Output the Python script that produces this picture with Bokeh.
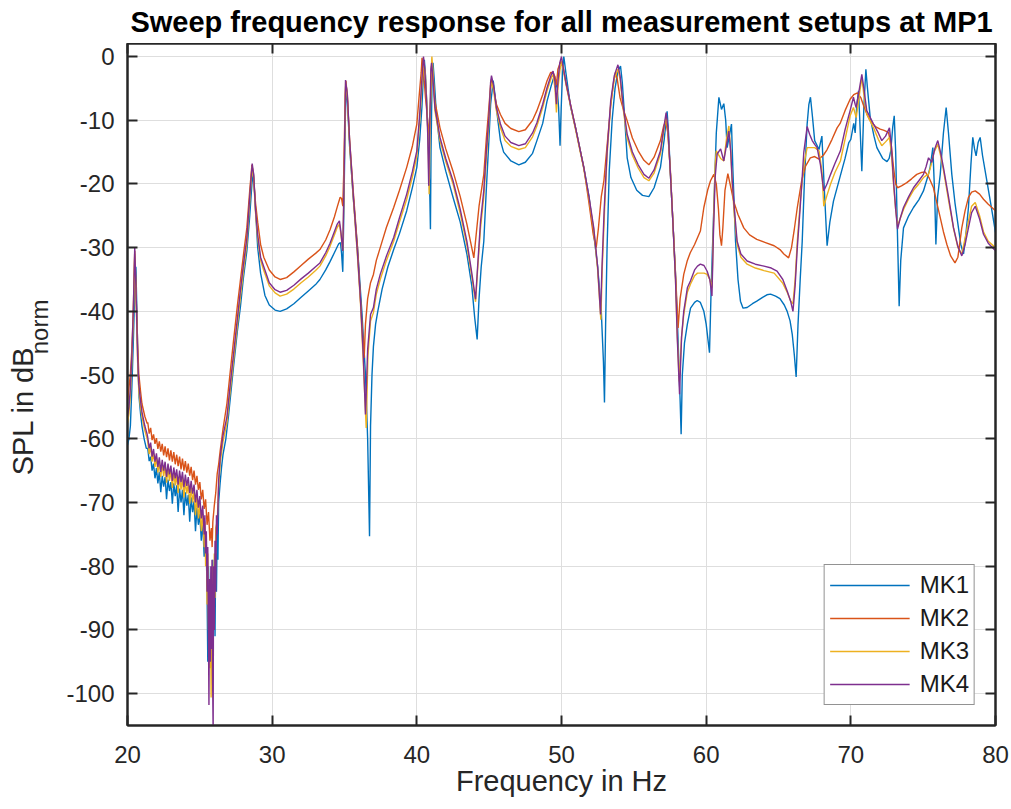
import math
from bokeh.plotting import figure
from bokeh.layouts import column, row
from bokeh.models import Range1d, LinearAxis, FixedTicker
from bokeh.core.properties import value
from bokeh.embed import file_html
from bokeh.resources import INLINE

FONT = "Liberation Sans"

TITLE = "Sweep frequency response for all measurement setups at MP1"
X_LABEL = "Frequency in Hz"
Y_LABEL_MAIN = "SPL in dB"
Y_LABEL_SUB = "norm"
SERIES_NAMES = ["MK1", "MK2", "MK3", "MK4"]
SERIES_COLORS = ["#0072BD", "#D95319", "#EDB120", "#7E2F8E"]
X_TICKS = [20, 30, 40, 50, 60, 70, 80]
Y_TICKS = [-100, -90, -80, -70, -60, -50, -40, -30, -20, -10, 0]

# (frequency in Hz, SPL in dB_norm)
MK1 = [
    (20.00, -61.0), (20.10, -60.0), (20.20, -58.0), (20.30, -52.0), (20.40, -45.0), (20.50, -37.0),
    (20.58, -33.0), (20.65, -40.0), (20.72, -48.0), (20.80, -53.5), (20.90, -56.0), (21.00, -58.0),
    (21.15, -60.0), (21.30, -61.5),
    (21.4, -61.5), (21.5, -63.5), (21.6, -62.8), (21.7, -65.0), (21.8, -63.9), (21.9, -66.2),
    (22.0, -64.6), (22.1, -67.0), (22.2, -65.2), (22.3, -68.4), (22.4, -65.8), (22.5, -67.5),
    (22.6, -66.0), (22.7, -69.5), (22.8, -66.4), (22.9, -68.2), (23.0, -66.8), (23.1, -70.2),
    (23.2, -67.0), (23.3, -69.0), (23.4, -67.3), (23.5, -71.5), (23.6, -67.8), (23.7, -70.0),
    (23.8, -68.0), (23.9, -72.0), (24.0, -68.4), (24.1, -70.5), (24.2, -68.8), (24.3, -73.0),
    (24.4, -69.2), (24.5, -71.5), (24.6, -69.8), (24.7, -74.5), (24.8, -70.8), (24.9, -73.5),
    (25.0, -71.8), (25.1, -76.0), (25.2, -73.0), (25.3, -78.5), (25.4, -75.0), (25.45, -78.0),
    (25.5, -84.0), (25.55, -95.0), (25.6, -80.0), (25.65, -88.0), (25.7, -82.0), (25.75, -90.0),
    (25.8, -81.0), (25.85, -87.0), (25.9, -79.0), (25.95, -86.0), (26.0, -80.0), (26.05, -91.0),
    (26.1, -78.0), (26.15, -84.0), (26.2, -74.0), (26.25, -79.0), (26.3, -70.0), (26.4, -67.0),
    (26.5, -64.5), (26.6, -62.5), (26.8, -60.0), (27.0, -56.0), (27.3, -49.3), (27.6, -43.0),
    (27.8, -39.4), (28.0, -35.0), (28.25, -30.5), (28.45, -25.0), (28.6, -20.0), (28.7, -18.2),
    (28.8, -22.0), (29.0, -30.0), (29.2, -34.0), (29.5, -37.5), (29.8, -39.0), (30.2, -39.8),
    (30.55, -40.0), (31.0, -39.6), (31.5, -38.8), (32.0, -37.8), (32.5, -36.8), (33.0, -35.8),
    (33.3, -35.0), (33.7, -33.5), (34.0, -32.2), (34.3, -30.8), (34.6, -29.4), (34.72, -29.2),
    (34.8, -31.0), (34.88, -33.8), (34.95, -25.0), (35.05, -10.0), (35.12, -4.6), (35.2, -7.0),
    (35.35, -14.0), (35.6, -22.0), (35.9, -30.0), (36.2, -40.0), (36.45, -50.0), (36.6, -60.0),
    (36.73, -75.3), (36.8, -58.0), (36.9, -50.0), (37.0, -45.5), (37.15, -42.0), (37.3, -40.0),
    (37.6, -36.5), (38.0, -33.0), (38.4, -30.3), (38.8, -27.8), (39.3, -24.2), (39.7, -20.5),
    (40.0, -17.4), (40.2, -13.0), (40.35, -8.0), (40.45, -3.0), (40.52, -0.5), (40.6, -3.0),
    (40.7, -8.0), (40.8, -14.0), (40.9, -22.0), (40.94, -27.1), (40.98, -15.0), (41.05, -4.0),
    (41.12, -1.0), (41.2, -3.5), (41.35, -9.0), (41.6, -14.3), (42.0, -18.0), (42.5, -22.1),
    (43.0, -26.0), (43.46, -31.0), (43.8, -36.0), (44.0, -41.0), (44.17, -44.4), (44.3, -38.0),
    (44.45, -33.0), (44.63, -29.0), (44.8, -21.0), (44.98, -13.2), (45.1, -7.5), (45.28, -3.8),
    (45.4, -6.0), (45.6, -10.0), (45.78, -13.2), (46.0, -15.0), (46.5, -16.4), (47.05, -17.0),
    (47.5, -16.6), (48.0, -15.2), (48.3, -13.2), (48.7, -10.5), (49.0, -7.0), (49.3, -4.5),
    (49.5, -3.0), (49.7, -5.0), (49.8, -8.0), (49.9, -14.0), (49.98, -8.0), (50.08, -2.0),
    (50.16, 0.0), (50.3, -2.5), (50.62, -7.8), (51.0, -11.5), (51.54, -17.4), (51.9, -22.0),
    (52.23, -27.9), (52.5, -33.0), (52.75, -40.0), (52.9, -48.0), (52.97, -54.3), (53.05, -42.0),
    (53.15, -30.0), (53.3, -18.0), (53.5, -10.0), (53.7, -5.0), (53.9, -2.3), (54.08, -1.5),
    (54.2, -4.0), (54.35, -9.0), (54.54, -15.9), (54.8, -19.0), (55.2, -21.0), (55.6, -21.8),
    (56.04, -22.0), (56.4, -20.6), (56.84, -17.4), (57.1, -13.0), (57.3, -8.6), (57.4, -12.0),
    (57.53, -18.5), (57.7, -26.0), (57.88, -34.2), (58.05, -44.0), (58.2, -54.0), (58.27, -59.3),
    (58.35, -50.0), (58.5, -45.0), (58.7, -42.0), (58.92, -39.5), (59.2, -38.6), (59.38, -38.3),
    (59.6, -38.6), (59.84, -40.0), (60.0, -42.0), (60.23, -46.5), (60.35, -36.0), (60.53, -23.7),
    (60.7, -12.0), (60.88, -6.4), (61.06, -8.3), (61.22, -7.4), (61.35, -10.0), (61.45, -14.3),
    (61.6, -12.5), (61.75, -10.6), (61.85, -18.0), (62.03, -29.0), (62.2, -35.0), (62.37, -38.4),
    (62.55, -39.5), (62.83, -39.4), (63.2, -38.8), (63.5, -38.4), (63.9, -37.8), (64.2, -37.4),
    (64.45, -37.3), (64.8, -37.6), (65.1, -38.0), (65.4, -39.0), (65.6, -40.0), (65.8, -41.5),
    (65.95, -43.6), (66.1, -47.0), (66.22, -50.3), (66.35, -42.0), (66.5, -35.0), (66.64, -29.0),
    (66.8, -19.0), (66.98, -10.6), (67.1, -7.5), (67.21, -6.4), (67.35, -9.5), (67.5, -13.2),
    (67.8, -14.6), (68.0, -12.5), (68.15, -20.0), (68.36, -29.7), (68.55, -26.0), (68.8, -22.7),
    (69.3, -18.5), (69.6, -16.0), (69.86, -13.5), (70.0, -13.0), (70.2, -10.5), (70.3, -12.0),
    (70.4, -8.0), (70.53, -5.4), (70.6, -9.0), (70.76, -18.0), (70.9, -8.0), (71.04, -2.0),
    (71.15, -5.0), (71.34, -9.6), (71.6, -12.5), (71.8, -14.3), (72.2, -16.0), (72.5, -16.5),
    (72.65, -16.0), (72.76, -14.8), (72.9, -11.0), (73.0, -9.3), (73.1, -15.0), (73.18, -23.7),
    (73.34, -39.2), (73.45, -32.0), (73.64, -26.9), (74.0, -25.0), (74.33, -23.7), (74.7, -22.5),
    (75.02, -21.1), (75.3, -19.0), (75.48, -17.4), (75.67, -14.3), (75.8, -22.0), (75.88, -29.5),
    (76.0, -22.0), (76.18, -18.5), (76.4, -12.0), (76.59, -8.0), (76.75, -12.0), (76.98, -18.5),
    (77.2, -23.0), (77.44, -26.9), (77.6, -29.5), (77.79, -31.0), (77.95, -28.0), (78.13, -23.7),
    (78.3, -17.0), (78.43, -12.7), (78.55, -14.5), (78.66, -15.6), (78.8, -13.5), (78.94, -12.7),
    (79.1, -15.5), (79.4, -19.5), (79.7, -23.5), (80.0, -27.6),
]

MK2 = [
    (20.00, -54.0), (20.10, -52.0), (20.20, -49.8), (20.30, -46.0), (20.40, -40.0), (20.50, -30.5),
    (20.58, -36.0), (20.70, -45.0), (20.78, -49.8), (20.90, -52.5), (21.00, -54.5), (21.20, -56.5),
    (21.36, -57.6),
    (21.4, -57.4), (21.5, -59.2), (21.6, -58.3), (21.7, -60.2), (21.8, -59.3), (21.9, -60.8),
    (22.0, -59.9), (22.1, -61.6), (22.2, -60.4), (22.3, -62.0), (22.4, -60.8), (22.5, -62.6),
    (22.6, -61.2), (22.7, -62.9), (22.8, -61.5), (22.9, -63.4), (23.0, -61.8), (23.1, -63.6),
    (23.2, -62.1), (23.3, -64.0), (23.4, -62.5), (23.5, -64.3), (23.6, -62.8), (23.7, -64.8),
    (23.8, -63.1), (23.9, -65.0), (24.0, -63.5), (24.1, -65.3), (24.2, -63.9), (24.3, -65.8),
    (24.4, -64.4), (24.5, -66.5), (24.6, -65.0), (24.7, -67.2), (24.8, -65.8), (24.9, -68.0),
    (25.0, -66.8), (25.1, -69.5), (25.2, -68.0), (25.3, -71.0), (25.4, -69.5), (25.5, -73.5),
    (25.6, -71.5), (25.7, -76.0), (25.8, -74.0), (25.85, -77.0), (25.9, -73.0), (26.0, -70.5),
    (26.1, -68.5), (26.2, -65.5), (26.3, -64.0), (26.41, -61.8), (26.6, -58.5), (26.87, -54.5),
    (27.1, -49.5), (27.33, -44.6), (27.6, -39.0), (27.8, -35.2), (28.05, -30.5), (28.25, -26.9),
    (28.45, -21.0), (28.6, -17.0), (28.7, -18.5), (28.85, -23.0), (29.0, -26.0), (29.2, -29.5),
    (29.42, -31.5), (29.8, -33.5), (30.2, -34.6), (30.55, -35.0), (31.0, -34.7), (31.5, -33.8),
    (32.0, -32.8), (32.5, -31.8), (33.0, -30.9), (33.3, -30.3), (33.7, -28.8), (34.0, -27.2),
    (34.3, -25.2), (34.5, -23.6), (34.7, -22.1), (34.8, -22.3), (34.88, -23.5), (34.95, -18.0),
    (35.05, -6.0), (35.1, -3.8), (35.2, -6.5), (35.35, -13.0), (35.6, -21.0), (35.9, -30.0),
    (36.1, -38.0), (36.3, -45.0), (36.36, -47.3), (36.45, -42.0), (36.6, -38.0), (36.8, -35.5),
    (37.0, -34.2), (37.2, -32.0), (37.47, -30.0), (37.9, -26.8), (38.4, -23.7), (38.8, -21.0),
    (39.3, -17.4), (39.7, -14.0), (40.0, -10.6), (40.15, -6.5), (40.3, -2.5), (40.36, -0.2),
    (40.45, -2.0), (40.6, -6.5), (40.75, -10.0), (40.85, -12.5), (40.95, -7.0), (41.02, -1.5),
    (41.1, -3.0), (41.25, -7.0), (41.6, -11.2), (42.0, -14.5), (42.5, -18.0), (43.0, -22.0),
    (43.46, -26.3), (43.75, -29.5), (43.94, -31.6), (44.1, -28.0), (44.3, -23.5), (44.63, -18.5),
    (44.8, -13.0), (44.98, -8.0), (45.1, -4.5), (45.16, -3.6), (45.3, -5.0), (45.5, -7.5),
    (45.78, -9.1), (46.1, -10.5), (46.5, -11.3), (47.05, -11.8), (47.5, -11.5), (48.0, -10.0),
    (48.3, -8.5), (48.7, -6.0), (49.0, -3.8), (49.25, -2.5), (49.42, -2.5), (49.55, -3.2),
    (49.65, -4.5), (49.75, -2.0), (49.95, -0.8), (50.1, -1.5), (50.3, -4.0), (50.62, -7.5),
    (51.0, -11.5), (51.54, -17.4), (51.9, -23.0), (52.2, -28.0), (52.4, -30.0), (52.55, -27.0),
    (52.75, -22.0), (52.93, -19.5), (53.15, -14.0), (53.39, -8.0), (53.6, -4.0), (53.73, -2.5),
    (53.85, -3.5), (54.05, -6.5), (54.3, -8.5), (54.54, -10.1), (54.9, -12.8), (55.3, -14.8),
    (55.7, -16.3), (56.04, -17.0), (56.4, -15.8), (56.84, -13.2), (57.05, -11.0), (57.2, -10.1),
    (57.35, -12.0), (57.53, -18.0), (57.7, -26.0), (57.88, -34.0), (58.06, -42.6), (58.2, -38.0),
    (58.45, -34.2), (58.7, -32.0), (58.9, -30.8), (59.2, -29.5), (59.6, -27.4), (59.84, -23.7),
    (60.1, -21.0), (60.3, -19.5), (60.53, -18.5), (60.7, -20.0), (60.85, -24.0), (60.95, -28.0),
    (61.06, -29.7), (61.15, -27.0), (61.3, -21.0), (61.5, -18.4), (61.7, -20.5), (61.9, -22.7),
    (62.2, -24.8), (62.6, -26.9), (63.0, -28.0), (63.5, -28.7), (64.1, -29.2), (64.7, -29.7),
    (65.1, -30.3), (65.37, -31.0), (65.7, -31.6), (65.9, -30.0), (66.1, -27.0), (66.3, -23.7),
    (66.6, -19.5), (66.87, -17.2), (67.2, -15.9), (67.5, -15.7), (67.8, -16.1), (68.1, -15.5),
    (68.36, -14.6), (68.7, -13.0), (69.05, -11.2), (69.26, -10.5), (69.6, -8.5), (69.95, -6.7),
    (70.2, -6.0), (70.46, -5.7), (70.7, -6.5), (70.88, -7.7), (71.1, -9.0), (71.34, -10.1),
    (71.7, -11.0), (72.03, -11.4), (72.3, -11.6), (72.6, -11.9), (72.8, -14.0), (72.95, -17.4),
    (73.1, -20.0), (73.23, -20.6), (73.5, -20.3), (73.87, -19.8), (74.2, -19.2), (74.56, -18.5),
    (74.9, -18.2), (75.14, -18.1), (75.4, -19.0), (75.71, -20.6), (75.95, -23.0), (76.18, -25.3),
    (76.4, -27.5), (76.64, -29.5), (76.9, -31.3), (77.2, -32.4), (77.4, -31.5), (77.67, -26.9),
    (77.9, -24.2), (78.13, -22.1), (78.35, -21.3), (78.6, -21.1), (78.9, -21.6), (79.17, -22.4),
    (79.5, -23.2), (80.0, -24.2),
]

MK3 = [
    (20.00, -57.5), (20.10, -56.0), (20.20, -53.0), (20.30, -48.0), (20.40, -41.0), (20.50, -31.0),
    (20.58, -37.0), (20.70, -48.0), (20.78, -52.5), (20.90, -55.0), (21.00, -56.5), (21.20, -58.7),
    (21.36, -60.0),
    (21.4, -60.4), (21.5, -62.4), (21.6, -61.2), (21.7, -63.6), (21.8, -62.2), (21.9, -64.4),
    (22.0, -62.9), (22.1, -65.3), (22.2, -63.5), (22.3, -66.0), (22.4, -63.9), (22.5, -65.9),
    (22.6, -64.2), (22.7, -66.9), (22.8, -64.6), (22.9, -66.6), (23.0, -64.9), (23.1, -67.7),
    (23.2, -65.3), (23.3, -67.3), (23.4, -65.6), (23.5, -68.5), (23.6, -65.9), (23.7, -68.0),
    (23.8, -66.1), (23.9, -69.2), (24.0, -66.6), (24.1, -68.6), (24.2, -67.0), (24.3, -70.2),
    (24.4, -67.6), (24.5, -70.0), (24.6, -68.2), (24.7, -72.0), (24.8, -69.0), (24.9, -72.5),
    (25.0, -70.2), (25.1, -74.5), (25.2, -71.8), (25.3, -77.0), (25.35, -73.0), (25.4, -80.0),
    (25.45, -76.0), (25.5, -86.0), (25.55, -78.0), (25.6, -90.0), (25.65, -82.0), (25.7, -96.0),
    (25.74, -84.0), (25.78, -100.6), (25.82, -83.0), (25.86, -92.0), (25.9, -80.0), (25.95, -88.0),
    (26.0, -78.0), (26.05, -85.0), (26.1, -74.0), (26.2, -73.0), (26.3, -67.5), (26.41, -63.8),
    (26.6, -60.5), (26.87, -57.5), (27.1, -52.5), (27.33, -47.7), (27.6, -42.0), (27.8, -37.8),
    (28.05, -33.0), (28.25, -29.3), (28.45, -22.8), (28.62, -17.2), (28.72, -19.0), (28.85, -24.5),
    (29.0, -28.5), (29.2, -32.0), (29.42, -33.6), (29.8, -36.0), (30.2, -37.1), (30.55, -37.6),
    (31.0, -37.3), (31.5, -36.5), (32.0, -35.5), (32.5, -34.6), (33.0, -33.6), (33.3, -32.9),
    (33.7, -31.3), (34.0, -29.8), (34.3, -28.0), (34.5, -26.8), (34.65, -26.3), (34.75, -27.8),
    (34.88, -30.5), (34.95, -22.5), (35.05, -7.5), (35.08, -4.0), (35.2, -6.3), (35.35, -13.5),
    (35.6, -22.0), (35.9, -31.5), (36.1, -38.5), (36.3, -48.0), (36.5, -58.3), (36.62, -47.0),
    (36.8, -41.5), (37.0, -40.2), (37.2, -37.3), (37.47, -35.0), (37.9, -32.0), (38.4, -29.0),
    (38.8, -26.0), (39.3, -22.4), (39.7, -18.8), (40.0, -15.6), (40.2, -10.0), (40.35, -4.5),
    (40.48, -0.8), (40.58, -2.5), (40.68, -7.0), (40.78, -13.0), (40.85, -21.6), (40.92, -10.0),
    (40.98, -3.0), (41.04, 0.0), (41.12, -2.5), (41.25, -8.5), (41.6, -13.2), (42.0, -16.5),
    (42.5, -20.0), (43.0, -24.6), (43.46, -29.6), (43.8, -34.5), (44.06, -38.5), (44.2, -33.5),
    (44.4, -27.0), (44.63, -22.0), (44.8, -16.0), (44.98, -10.5), (45.1, -5.0), (45.18, -4.1),
    (45.3, -5.2), (45.5, -8.5), (45.78, -11.2), (46.1, -13.2), (46.5, -14.1), (47.05, -14.6),
    (47.5, -14.3), (48.0, -12.6), (48.3, -10.9), (48.7, -8.0), (49.0, -5.4), (49.3, -3.3),
    (49.42, -2.8), (49.55, -5.0), (49.65, -8.8), (49.75, -5.0), (49.9, -2.0), (50.02, -0.8),
    (50.12, -2.0), (50.3, -4.3), (50.62, -7.7), (51.0, -11.8), (51.54, -17.6), (51.9, -22.3),
    (52.23, -27.2), (52.5, -33.5), (52.72, -41.3), (52.82, -33.0), (52.97, -24.5), (53.15, -15.5),
    (53.4, -7.5), (53.65, -3.5), (53.9, -2.0), (54.05, -3.5), (54.25, -8.0), (54.54, -12.8),
    (54.9, -15.5), (55.3, -17.5), (55.7, -19.0), (56.04, -19.5), (56.4, -18.3), (56.84, -15.3),
    (57.05, -12.0), (57.23, -9.3), (57.35, -11.5), (57.53, -18.5), (57.7, -26.0), (57.88, -35.0),
    (58.0, -43.5), (58.14, -51.0), (58.3, -44.0), (58.45, -40.5), (58.7, -37.0), (58.92, -35.7),
    (59.2, -34.4), (59.4, -34.0), (59.6, -34.0), (59.85, -34.0), (60.07, -34.2), (60.25, -35.0),
    (60.4, -36.3), (60.52, -25.0), (60.62, -17.0), (60.7, -14.8), (61.0, -16.0), (61.22, -16.4),
    (61.4, -13.0), (61.57, -10.9), (61.7, -15.0), (61.8, -20.0), (61.95, -25.0), (62.14, -29.5),
    (62.4, -31.5), (62.83, -32.6), (63.4, -33.2), (64.0, -33.6), (64.7, -34.0), (65.3, -35.6),
    (65.6, -37.0), (65.85, -38.4), (66.0, -38.8), (66.15, -35.0), (66.3, -29.0), (66.5, -23.0),
    (66.75, -17.0), (66.98, -14.3), (67.2, -14.3), (67.5, -14.3), (67.8, -14.8), (68.0, -18.0),
    (68.13, -23.5), (68.35, -21.8), (68.6, -20.0), (68.9, -18.2), (69.28, -16.4), (69.6, -13.0),
    (69.95, -9.3), (70.18, -8.0), (70.37, -9.6), (70.53, -7.0), (70.76, -3.3), (70.9, -6.0),
    (71.1, -9.0), (71.57, -11.2), (71.9, -13.0), (72.14, -14.0), (72.4, -13.4), (72.67, -12.7),
    (72.8, -15.0), (72.95, -20.0), (73.1, -24.0), (73.23, -26.6), (73.4, -25.5), (73.64, -24.0),
    (74.0, -22.3), (74.33, -21.0), (74.7, -20.0), (75.02, -19.0), (75.2, -18.7), (75.37, -18.5),
    (75.55, -17.0), (75.75, -15.0), (76.01, -13.8), (76.2, -15.5), (76.4, -17.8), (76.75, -22.5),
    (77.1, -27.0), (77.4, -30.0), (77.67, -31.0), (77.9, -28.5), (78.13, -25.8), (78.35, -23.5),
    (78.6, -22.9), (78.9, -25.0), (79.17, -27.5), (79.5, -29.0), (80.0, -30.0),
]

MK4 = [
    (20.00, -56.5), (20.10, -55.0), (20.20, -52.0), (20.30, -47.0), (20.40, -40.0), (20.50, -30.0),
    (20.58, -36.0), (20.70, -47.0), (20.78, -51.5), (20.90, -54.0), (21.00, -55.8), (21.20, -58.0),
    (21.36, -59.3),
    (21.4, -59.8), (21.5, -61.5), (21.6, -60.6), (21.7, -62.8), (21.8, -61.6), (21.9, -63.6),
    (22.0, -62.3), (22.1, -64.4), (22.2, -62.9), (22.3, -65.2), (22.4, -63.3), (22.5, -65.0),
    (22.6, -63.6), (22.7, -66.0), (22.8, -63.9), (22.9, -65.6), (23.0, -64.2), (23.1, -66.6),
    (23.2, -64.5), (23.3, -66.2), (23.4, -64.8), (23.5, -67.2), (23.6, -65.0), (23.7, -66.8),
    (23.8, -65.2), (23.9, -67.6), (24.0, -65.6), (24.1, -67.4), (24.2, -66.0), (24.3, -68.5),
    (24.4, -66.6), (24.5, -68.6), (24.6, -67.2), (24.7, -70.0), (24.8, -68.0), (24.9, -70.8),
    (25.0, -69.0), (25.1, -72.5), (25.2, -70.5), (25.3, -75.0), (25.35, -72.0), (25.4, -78.0),
    (25.45, -74.5), (25.5, -84.0), (25.55, -77.0), (25.6, -92.0), (25.63, -101.8), (25.67, -82.0),
    (25.72, -95.0), (25.76, -80.0), (25.8, -93.0), (25.84, -79.0), (25.88, -97.0), (25.92, -106.0),
    (25.95, -80.0), (26.0, -90.0), (26.05, -76.0), (26.1, -84.0), (26.15, -72.0), (26.2, -75.0),
    (26.3, -66.5), (26.41, -62.8), (26.6, -59.5), (26.87, -56.6), (27.1, -51.5), (27.33, -46.7),
    (27.6, -41.0), (27.8, -36.8), (28.05, -32.0), (28.25, -28.5), (28.45, -22.0), (28.62, -16.8),
    (28.72, -18.5), (28.85, -24.0), (29.0, -28.0), (29.2, -31.5), (29.42, -33.0), (29.8, -35.5),
    (30.2, -36.6), (30.55, -37.0), (31.0, -36.7), (31.5, -35.9), (32.0, -34.9), (32.5, -34.0),
    (33.0, -33.0), (33.3, -32.4), (33.7, -30.8), (34.0, -29.3), (34.3, -27.5), (34.5, -26.3),
    (34.65, -25.8), (34.75, -27.5), (34.88, -30.5), (34.95, -22.0), (35.05, -7.0), (35.07, -3.7),
    (35.2, -6.0), (35.35, -13.0), (35.6, -21.5), (35.9, -31.0), (36.1, -38.0), (36.3, -47.0),
    (36.45, -56.2), (36.6, -46.0), (36.8, -40.5), (37.0, -39.4), (37.2, -36.5), (37.47, -34.2),
    (37.9, -31.3), (38.4, -28.4), (38.8, -25.3), (39.3, -21.6), (39.7, -18.0), (40.0, -14.8),
    (40.2, -9.0), (40.35, -3.5), (40.46, 0.0), (40.55, -2.0), (40.65, -6.0), (40.75, -12.0),
    (40.82, -20.3), (40.9, -10.0), (40.97, -2.0), (41.02, -1.0), (41.1, -3.0), (41.25, -8.0),
    (41.6, -12.7), (42.0, -16.0), (42.5, -19.5), (43.0, -24.0), (43.46, -29.0), (43.8, -34.0),
    (44.06, -38.1), (44.2, -33.0), (44.4, -26.0), (44.63, -21.0), (44.8, -15.0), (44.98, -9.6),
    (45.1, -4.0), (45.16, -3.0), (45.3, -4.5), (45.5, -8.0), (45.78, -10.6), (46.1, -12.5),
    (46.5, -13.5), (47.05, -14.0), (47.5, -13.7), (48.0, -12.0), (48.3, -10.4), (48.7, -7.5),
    (49.0, -4.9), (49.3, -2.8), (49.42, -2.3), (49.55, -4.0), (49.65, -7.5), (49.75, -4.0),
    (49.88, -1.0), (50.0, 0.0), (50.1, -1.5), (50.3, -4.0), (50.62, -7.5), (51.0, -11.5),
    (51.54, -17.4), (51.9, -22.0), (52.23, -26.9), (52.5, -33.0), (52.7, -40.5), (52.8, -33.0),
    (52.95, -24.0), (53.15, -15.0), (53.4, -7.0), (53.65, -3.0), (53.9, -1.3), (54.05, -3.0),
    (54.25, -7.5), (54.54, -12.2), (54.9, -15.0), (55.3, -17.0), (55.7, -18.5), (56.04, -19.1),
    (56.4, -17.8), (56.84, -14.8), (57.05, -11.5), (57.23, -8.8), (57.35, -11.0), (57.53, -18.5),
    (57.7, -26.0), (57.88, -35.0), (58.0, -44.0), (58.16, -53.0), (58.3, -44.0), (58.45, -40.0),
    (58.7, -36.3), (58.92, -35.2), (59.2, -33.5), (59.4, -32.9), (59.6, -32.6), (59.85, -32.8),
    (60.07, -33.7), (60.25, -35.0), (60.4, -37.6), (60.5, -28.0), (60.62, -19.0), (60.76, -15.3),
    (61.0, -14.5), (61.22, -16.4), (61.4, -14.0), (61.57, -11.7), (61.7, -15.0), (61.8, -19.5),
    (61.95, -24.0), (62.14, -29.0), (62.4, -31.0), (62.83, -32.1), (63.4, -32.6), (64.0, -32.9),
    (64.5, -33.2), (64.9, -33.7), (65.3, -35.0), (65.6, -36.8), (65.85, -38.5), (66.0, -40.0),
    (66.15, -36.0), (66.3, -30.0), (66.5, -23.7), (66.75, -15.0), (66.98, -11.0), (67.15, -12.2),
    (67.33, -13.2), (67.5, -13.8), (67.67, -14.3), (67.9, -17.0), (68.13, -21.1), (68.35, -20.0),
    (68.6, -18.5), (68.9, -16.8), (69.28, -14.8), (69.6, -11.5), (69.95, -8.5), (70.18, -6.4),
    (70.3, -7.5), (70.37, -8.0), (70.53, -5.9), (70.76, -2.8), (70.9, -5.0), (71.1, -8.5),
    (71.57, -10.6), (71.9, -12.0), (72.14, -13.2), (72.4, -12.5), (72.67, -11.2), (72.8, -14.0),
    (72.95, -19.5), (73.1, -24.0), (73.23, -27.1), (73.4, -25.5), (73.64, -23.7), (74.0, -22.0),
    (74.33, -20.6), (74.7, -19.5), (75.02, -18.5), (75.2, -17.3), (75.37, -15.9), (75.5, -16.3),
    (75.6, -16.6), (75.8, -14.5), (76.01, -13.2), (76.2, -15.0), (76.4, -17.4), (76.75, -22.0),
    (77.1, -26.9), (77.4, -29.8), (77.67, -31.3), (77.9, -29.5), (78.13, -26.9), (78.35, -24.5),
    (78.6, -23.5), (78.9, -25.5), (79.17, -27.9), (79.5, -29.3), (80.0, -30.5),
]

SERIES = [MK1, MK2, MK3, MK4]

AX_COLOR = "#262626"
W, H = 1011, 809
TOP_H = 43
LEFT_W = 60
LEFT_H = H - TOP_H


def text_panel(width, height):
    f = figure(width=width, height=height, output_backend="svg", toolbar_location=None,
               x_range=Range1d(0, width), y_range=Range1d(0, height),
               min_border=0, x_axis_type=None, y_axis_type=None)
    f.outline_line_color = None
    f.grid.visible = False
    f.background_fill_color = "white"
    f.border_fill_color = "white"
    return f


# --- title strip (positions in strip pixels, measured from the strip's bottom)
top = text_panel(W, TOP_H)
top.text(x=[561], y=[22.0], text=[TITLE], text_align="center", text_baseline="alphabetic",
         text_font=value(FONT), text_font_size="29px", text_font_style="bold", text_color="black")

# --- y-label strip
left = text_panel(LEFT_W, LEFT_H)
left.text(x=[22], y=[281], text=[Y_LABEL_MAIN], angle=math.pi / 2,
          text_align="left", text_baseline="alphabetic",
          text_font=value(FONT), text_font_size="29px", text_color=AX_COLOR)
left.text(x=[39], y=[417], text=[Y_LABEL_SUB], angle=math.pi / 2,
          text_align="left", text_baseline="alphabetic",
          text_font=value(FONT), text_font_size="24px", text_color=AX_COLOR)

# --- main plot
p = figure(width=W - LEFT_W, height=LEFT_H, output_backend="svg", toolbar_location=None,
           x_range=Range1d(20, 80), y_range=Range1d(-105, 2.04),
           min_border_left=127 - LEFT_W, min_border_right=16, min_border_top=0, min_border_bottom=84)
p.background_fill_color = "white"
p.border_fill_color = "white"
p.outline_line_color = AX_COLOR
p.outline_line_width = 2

for name, color, data in zip(SERIES_NAMES, SERIES_COLORS, SERIES):
    fx = [d[0] for d in data]
    fy = [d[1] for d in data]
    p.line(fx, fy, line_color=color, line_width=1.4, legend_label=name)

p.xgrid.ticker = FixedTicker(ticks=X_TICKS)
p.ygrid.ticker = FixedTicker(ticks=Y_TICKS)
p.grid.grid_line_color = "#dedede"
p.grid.grid_line_width = 1


def style_axis(ax, ticks, labels=True):
    ax.ticker = FixedTicker(ticks=ticks)
    ax.axis_line_color = AX_COLOR
    ax.axis_line_width = 2
    ax.major_tick_line_color = AX_COLOR
    ax.major_tick_line_width = 2
    ax.major_tick_in = 10
    ax.major_tick_out = 0
    ax.minor_tick_line_color = None
    if labels:
        ax.major_label_text_font = FONT
        ax.major_label_text_font_size = "24px"
        ax.major_label_text_color = AX_COLOR
        ax.major_label_overrides = {t: str(t) for t in ticks}
    else:
        ax.major_label_text_font_size = "0px"
        ax.major_label_text_color = None
        ax.major_label_standoff = 0


style_axis(p.xaxis[0], X_TICKS)
style_axis(p.yaxis[0], Y_TICKS)
p.xaxis[0].major_label_standoff = 20
p.yaxis[0].major_label_standoff = 13
p.xaxis[0].axis_label = X_LABEL
p.xaxis[0].axis_label_text_font = FONT
p.xaxis[0].axis_label_text_font_size = "29px"
p.xaxis[0].axis_label_text_font_style = "normal"
p.xaxis[0].axis_label_text_color = AX_COLOR
p.xaxis[0].axis_label_standoff = -1

top_axis = LinearAxis()
style_axis(top_axis, X_TICKS, labels=False)
p.add_layout(top_axis, "above")
right_axis = LinearAxis()
style_axis(right_axis, Y_TICKS, labels=False)
p.add_layout(right_axis, "right")

leg = p.legend[0]
leg.location = "bottom_right"
leg.margin = 20
leg.padding = 5
leg.spacing = 3
leg.label_standoff = 10
leg.glyph_width = 80
leg.glyph_height = 30
leg.label_height = 30
leg.label_text_font = FONT
leg.label_text_font_size = "24px"
leg.label_text_color = "#1a1a1a"
leg.border_line_color = AX_COLOR
leg.border_line_width = 1
leg.background_fill_color = "white"
leg.background_fill_alpha = 1

layout = column(top, row(left, p, spacing=0), spacing=0)
open("out.html", "w").write(file_html(layout, INLINE))
